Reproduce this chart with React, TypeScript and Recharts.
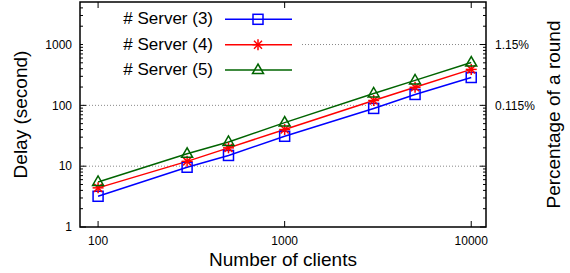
import React from 'react';
import { LineChart, Line, XAxis, YAxis, ReferenceLine, ReferenceArea, Legend } from 'recharts';

// ---- data ----
const CLIENTS = [100, 300, 500, 1000, 3000, 5000, 10000];
const SERVER3 = [3.2, 9.6, 15, 31, 89, 151, 287];
const SERVER4 = [4.4, 12, 20, 40, 120, 198, 390];
const SERVER5 = [5.5, 16, 25, 52, 157, 257, 505];

const X_TICKS = [100, 1000, 10000];
const Y_MAJOR = [1, 10, 100, 1000];
const Y_MINOR = [2, 3, 4, 5, 6, 7, 8, 9, 20, 30, 40, 50, 60, 70, 80, 90, 200, 300, 400, 500, 600, 700, 800, 900, 2000, 3000, 4000];
const Y_TICKS = [...Y_MAJOR, ...Y_MINOR].sort((a, b) => a - b);
const GRID_Y = [10, 100, 1000];
const RIGHT_LABELS: Record<number, string> = { 100: '0.115%', 1000: '1.15%' };

const X_DOMAIN: [number, number] = [80, 12000];
const Y_DOMAIN: [number, number] = [1, 5000];

const SERIES = [
  { key: 's3', name: '# Server (3)', color: '#0000ff', marker: 'square', values: SERVER3 },
  { key: 's4', name: '# Server (4)', color: '#ff0000', marker: 'star', values: SERVER4 },
  { key: 's5', name: '# Server (5)', color: '#006400', marker: 'triangle', values: SERVER5 },
];

const data = CLIENTS.map((c, i) => {
  const row: Record<string, number> = { clients: c };
  SERIES.forEach((s) => { row[s.key] = s.values[i]; });
  return row;
});

// ---- layout ----
const W = 570;
const H = 273;
const LEFT_W = 80;
const RIGHT_W = 84;
const BOTTOM_H = 46;
const TOP_M = 2;
const PLOT_H = H - TOP_M - BOTTOM_H;
const FONT = '"Liberation Sans", Arial, Helvetica, sans-serif';

const Marker = ({ type, cx, cy, color }: { type: string; cx: number; cy: number; color: string }) => {
  if (cx == null || cy == null || isNaN(cx) || isNaN(cy)) return null;
  if (type === 'square') {
    return <rect x={cx - 5} y={cy - 5} width={10} height={10} fill="none" stroke={color} strokeWidth={1.5} />;
  }
  if (type === 'star') {
    return (
      <g stroke={color} strokeWidth={1.5}>
        <line x1={cx} y1={cy - 5.5} x2={cx} y2={cy + 5.5} />
        <line x1={cx - 5.5} y1={cy} x2={cx + 5.5} y2={cy} />
        <line x1={cx - 4} y1={cy - 4} x2={cx + 4} y2={cy + 4} />
        <line x1={cx - 4} y1={cy + 4} x2={cx + 4} y2={cy - 4} />
      </g>
    );
  }
  return (
    <polygon
      points={`${cx},${cy - 6} ${cx - 5.5},${cy + 3.5} ${cx + 5.5},${cy + 3.5}`}
      fill="none"
      stroke={color}
      strokeWidth={1.5}
    />
  );
};

const XTick = (props: any) => {
  const { x, y, payload } = props;
  return (
    <g>
      <line x1={x} y1={y} x2={x} y2={y - 6} stroke="#000" strokeWidth={1} />
      <line x1={x} y1={y - PLOT_H} x2={x} y2={y - PLOT_H + 6} stroke="#000" strokeWidth={1} />
      <text x={x} y={y + 18} textAnchor="middle" fontSize={12} fontFamily={FONT} fill="#000">
        {payload.value}
      </text>
    </g>
  );
};

const LeftTick = (props: any) => {
  const { x, y, payload } = props;
  const major = Y_MAJOR.includes(payload.value);
  return (
    <g>
      <line x1={x} y1={y} x2={x + (major ? 6 : 3)} y2={y} stroke="#000" strokeWidth={1} />
      {major && (
        <text x={x - 8} y={y + 4.3} textAnchor="end" fontSize={12} fontFamily={FONT} fill="#000">
          {payload.value}
        </text>
      )}
    </g>
  );
};

const RightTick = (props: any) => {
  const { x, y, payload } = props;
  const major = Y_MAJOR.includes(payload.value);
  const label = RIGHT_LABELS[payload.value];
  return (
    <g>
      <line x1={x} y1={y} x2={x - (major ? 6 : 3)} y2={y} stroke="#000" strokeWidth={1} />
      {label && (
        <text x={x + 9} y={y + 4.3} textAnchor="start" fontSize={12} fontFamily={FONT} fill="#000">
          {label}
        </text>
      )}
    </g>
  );
};

const LegendContent = () => (
  <div style={{ width: 217, height: 74, background: '#fff' }}>
    <svg width={217} height={74} style={{ display: 'block' }}>
      {SERIES.map((s, i) => {
        const ly = 10.3 + i * 25.4;
        return (
          <g key={s.key}>
            <text x={130} y={ly + 5} textAnchor="end" fontSize={17} fontFamily={FONT} fill="#000">
              {s.name}
            </text>
            <line x1={142} y1={ly} x2={209} y2={ly} stroke={s.color} strokeWidth={1.5} />
            <Marker type={s.marker} cx={175} cy={ly} color={s.color} />
          </g>
        );
      })}
    </svg>
  </div>
);

export default function App() {
  return (
    <div style={{ position: 'absolute', left: 0, top: 0, width: W, height: H, background: '#fff' }}>
      <LineChart width={W} height={H} data={data} margin={{ top: TOP_M, right: 0, bottom: 0, left: 0 }}>
        <ReferenceArea
          x1={X_DOMAIN[0]}
          x2={X_DOMAIN[1]}
          y1={Y_DOMAIN[0]}
          y2={Y_DOMAIN[1]}
          fill="none"
          fillOpacity={0}
          stroke="#000"
          strokeWidth={1.5}
          ifOverflow="visible"
        />
        {GRID_Y.map((g) => (
          <ReferenceLine key={g} y={g} stroke="#888" strokeWidth={1} strokeDasharray="1 2" />
        ))}
        <XAxis
          dataKey="clients"
          type="number"
          scale="log"
          domain={X_DOMAIN}
          allowDataOverflow
          ticks={X_TICKS}
          interval={0}
          axisLine={false}
          tickLine={false}
          tickSize={0}
          tickMargin={0}
          height={BOTTOM_H}
          tick={<XTick />}
          label={(p: any) => {
            const vb = p.viewBox || {};
            return (
              <text x={vb.x + vb.width / 2} y={vb.y + 39} textAnchor="middle" fontSize={19} fontFamily={FONT} fill="#000">
                Number of clients
              </text>
            );
          }}
        />
        <YAxis
          yAxisId={0}
          type="number"
          scale="log"
          domain={Y_DOMAIN}
          allowDataOverflow
          ticks={Y_TICKS}
          interval={0}
          axisLine={false}
          tickLine={false}
          tickSize={0}
          tickMargin={0}
          width={LEFT_W}
          tick={<LeftTick />}
          label={(p: any) => {
            const vb = p.viewBox || {};
            const cy = vb.y + vb.height / 2;
            return (
              <text x={26.5} y={cy} transform={`rotate(-90, 26.5, ${cy})`} textAnchor="middle" fontSize={19} fontFamily={FONT} fill="#000">
                Delay (second)
              </text>
            );
          }}
        />
        <YAxis
          yAxisId="right"
          orientation="right"
          type="number"
          scale="log"
          domain={Y_DOMAIN}
          allowDataOverflow
          ticks={Y_TICKS}
          interval={0}
          axisLine={false}
          tickLine={false}
          tickSize={0}
          tickMargin={0}
          width={RIGHT_W}
          tick={<RightTick />}
          label={(p: any) => {
            const vb = p.viewBox || {};
            const cy = vb.y + vb.height / 2;
            const tx = vb.x + 74;
            return (
              <text x={tx} y={cy} transform={`rotate(-90, ${tx}, ${cy})`} textAnchor="middle" fontSize={19} fontFamily={FONT} fill="#000">
                Percentage of a round
              </text>
            );
          }}
        />
        {SERIES.map((s) => (
          <Line
            key={s.key}
            yAxisId={0}
            dataKey={s.key}
            name={s.name}
            stroke={s.color}
            strokeWidth={1.5}
            isAnimationActive={false}
            dot={(p: any) => <Marker key={`${s.key}-${p.index}`} type={s.marker} cx={p.cx} cy={p.cy} color={s.color} />}
            activeDot={false}
          />
        ))}
        <Legend
          layout="vertical"
          align="center"
          verticalAlign="middle"
          content={<LegendContent />}
          wrapperStyle={{ left: 83, top: 9, width: 217, height: 74, margin: 0, padding: 0 }}
        />
      </LineChart>
    </div>
  );
}
